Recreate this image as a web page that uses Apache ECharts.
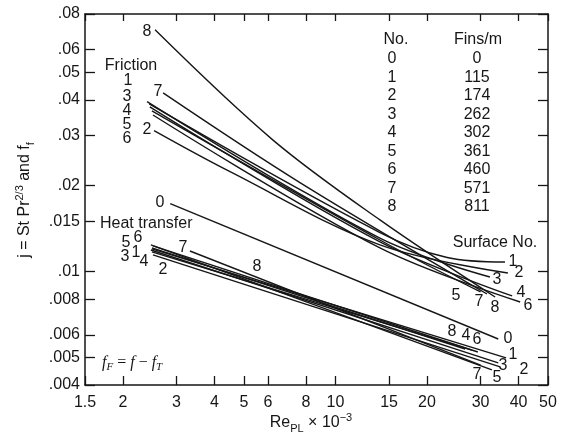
<!DOCTYPE html>
<html>
<head>
    <meta charset="utf-8" />
    <title>j and f vs Re</title>
    <script src="https://cdn.jsdelivr.net/npm/echarts@6/dist/echarts.min.js"></script>
    <style>
        body { margin: 0; background: #fff; }
        #main { width: 565px; height: 435px; }
    </style>
</head>
<body>
    <div id="main"></div>
    <script>
        // tick marks (Re x 10^-3 and j / f), log scales
        var xTicks = [1.5, 2, 3, 4, 5, 6, 8, 10, 15, 20, 30, 40, 50];
        var xTickLabels = ['1.5', '2', '3', '4', '5', '6', '8', '10', '15', '20', '30', '40', '50'];
        var yTicks = [0.004, 0.005, 0.006, 0.008, 0.01, 0.015, 0.02, 0.03, 0.04, 0.05, 0.06, 0.08];
        var yTickLabels = ['.004', '.005', '.006', '.008', '.01', '.015', '.02', '.03', '.04', '.05', '.06', '.08'];

        // friction curves, [Re x 10^-3, f]
        var friction1 = [[2.44, 0.0387], [14.0, 0.0137], [23.3, 0.0112], [36.1, 0.0108]];
        var friction2 = [[2.53, 0.0312], [4.5, 0.0224], [14.0, 0.0124], [36.9, 0.00988]];
        var friction3 = [[2.40, 0.0394], [14.0, 0.0131], [32.2, 0.00957]];
        var friction4 = [[2.45, 0.0378], [14.0, 0.0127], [38.1, 0.00821]];
        var friction5 = [[2.49, 0.0366], [14.0, 0.0129], [30.0, 0.00848]];
        var friction6 = [[2.51, 0.0354], [14.0, 0.0121], [40.5, 0.00782]];
        var friction7 = [[2.71, 0.0423], [7.64, 0.0205], [31.5, 0.00834]];
        var friction8 = [[2.55, 0.0704], [6.23, 0.0289], [14.0, 0.01517], [33.5, 0.00814]];

        // heat transfer curves, [Re x 10^-3, j]
        var heat0 = [[2.86, 0.0173], [34.3, 0.0058]];
        var heat1 = [[2.49, 0.0120], [36.4, 0.00498]];
        var heat2 = [[2.51, 0.01144], [34.8, 0.00463]];
        var heat3 = [[2.47, 0.0119], [34.3, 0.00478]];
        var heat4 = [[2.49, 0.01172], [28.1, 0.00530]];
        var heat5 = [[2.47, 0.0124], [32.7, 0.00452]];
        var heat6 = [[2.51, 0.0123], [29.4, 0.00522]];
        var heat7 = [[3.32, 0.0118], [30.0, 0.0047]];
        var heat8 = [[2.49, 0.0121], [26.7, 0.00535]];

        // surface table
        var surfaceNo = ['0', '1', '2', '3', '4', '5', '6', '7', '8'];
        var finsPerM = ['0', '115', '174', '262', '302', '361', '460', '571', '811'];

        var INK = '#161616';
        var FONT = '"Liberation Sans", Arial, sans-serif';
        var FS = 16;
        var lg = function (v) { return Math.log10(v); };
        var toLog = function (pts) { return pts.map(function (p) { return [lg(p[0]), lg(p[1])]; }); };
        var nearestLabel = function (ticks, labels, v) {
            var best = 0;
            for (var i = 1; i < ticks.length; i++) {
                if (Math.abs(lg(ticks[i]) - v) < Math.abs(lg(ticks[best]) - v)) best = i;
            }
            return labels[best];
        };

        var curves = [
            ['f1', friction1], ['f2', friction2], ['f3', friction3], ['f4', friction4],
            ['f5', friction5], ['f6', friction6], ['f7', friction7], ['f8', friction8],
            ['j0', heat0], ['j1', heat1], ['j2', heat2], ['j3', heat3], ['j4', heat4],
            ['j5', heat5], ['j6', heat6], ['j7', heat7], ['j8', heat8]
        ];
        var series = curves.map(function (c) {
            return {
                name: c[0],
                type: 'line',
                data: toLog(c[1]),
                showSymbol: false,
                smooth: c[1].length > 2 ? 0.35 : false,
                lineStyle: { color: INK, width: 1.4 },
                silent: true,
                animation: false
            };
        });

        // text annotations placed in pixels
        var notes = [
            ['8', 147, 32], ['Friction', 131, 66], ['1', 128, 81], ['3', 127, 97], ['7', 158, 92],
            ['4', 127, 111], ['5', 127, 125], ['2', 147, 130], ['6', 127, 139],
            ['0', 160, 203],
            ['5', 126, 243], ['6', 138, 238], ['3', 125, 257], ['1', 136, 253], ['4', 144, 262],
            ['2', 163, 270], ['7', 183, 248], ['8', 257, 267],
            ['Surface No.', 495, 243],
            ['1', 513, 262], ['2', 519, 273], ['3', 497, 280], ['4', 521, 293], ['6', 528, 306],
            ['5', 456, 296], ['7', 479, 302], ['8', 495, 308],
            ['8', 452, 332], ['4', 466, 336], ['6', 477, 340], ['0', 508, 339],
            ['1', 513, 355], ['3', 503, 366], ['2', 524, 370], ['7', 477, 375], ['5', 497, 378],
            ['No.', 396, 40], ['Fins/m', 478, 40]
        ];
        var graphics = notes.map(function (n) {
            return {
                type: 'text', x: n[1], y: n[2], silent: true,
                style: { text: n[0], fill: INK, font: FS + 'px ' + FONT, align: 'center', verticalAlign: 'middle' }
            };
        });
        // Heat transfer label is left-aligned
        graphics.push({
            type: 'text', x: 100, y: 224, silent: true,
            style: { text: 'Heat transfer', fill: INK, font: FS + 'px ' + FONT, align: 'left', verticalAlign: 'middle' }
        });
        surfaceNo.forEach(function (s, i) {
            graphics.push({
                type: 'text', x: 392, y: 59 + i * 18.5, silent: true,
                style: { text: s, fill: INK, font: FS + 'px ' + FONT, align: 'center', verticalAlign: 'middle' }
            });
            graphics.push({
                type: 'text', x: 477, y: 59 + i * 18.5, silent: true,
                style: { text: finsPerM[i], fill: INK, font: FS + 'px ' + FONT, align: 'center', verticalAlign: 'middle' }
            });
        });
        // formula
        graphics.push({
            type: 'text', x: 102, y: 363, silent: true,
            style: {
                text: '{i|f}{s|F}{n| = }{i|f}{n| − }{i|f}{s|T}',
                fill: INK, align: 'left', verticalAlign: 'middle',
                rich: {
                    i: { fontFamily: '"Liberation Serif", serif', fontStyle: 'italic', fontSize: 16, lineHeight: 20, verticalAlign: 'middle' },
                    n: { fontFamily: '"Liberation Serif", serif', fontSize: 16, lineHeight: 20, verticalAlign: 'middle' },
                    s: { fontFamily: '"Liberation Serif", serif', fontStyle: 'italic', fontSize: 11, lineHeight: 20, verticalAlign: 'bottom' }
                }
            }
        });
        // axis titles
        graphics.push({
            type: 'text', x: 311, y: 423, silent: true,
            style: {
                text: '{n|Re}{s|PL}{n| × 10}{p|−3}',
                fill: INK, align: 'center', verticalAlign: 'middle',
                rich: {
                    n: { fontFamily: FONT, fontSize: FS, lineHeight: 22, verticalAlign: 'middle' },
                    s: { fontFamily: FONT, fontSize: 11, lineHeight: 22, verticalAlign: 'bottom' },
                    p: { fontFamily: FONT, fontSize: 11, lineHeight: 22, verticalAlign: 'top' }
                }
            }
        });
        graphics.push({
            type: 'text', x: 25, y: 200, rotation: Math.PI / 2, silent: true,
            style: {
                text: '{n|j = St Pr}{p|2/3}{n| and f}{s|f}',
                fill: INK, align: 'center', verticalAlign: 'middle',
                rich: {
                    n: { fontFamily: FONT, fontSize: FS, lineHeight: 22, verticalAlign: 'middle' },
                    s: { fontFamily: FONT, fontSize: 11, lineHeight: 22, verticalAlign: 'bottom' },
                    p: { fontFamily: FONT, fontSize: 11, lineHeight: 22, verticalAlign: 'top' }
                }
            }
        });

        var xMin = lg(1.5), xMax = lg(50), yMin = lg(0.004), yMax = lg(0.08);
        var frameLine = { show: true, onZero: false, lineStyle: { color: INK, width: 1.5 } };
        var xTickLog = xTicks.map(lg);
        var yTickLog = yTicks.map(lg);

        var chart = echarts.init(document.getElementById('main'), null, { renderer: 'canvas' });
        chart.setOption({
            animation: false,
            backgroundColor: '#fff',
            grid: { left: 85, right: 17, top: 14, bottom: 50, containLabel: false, outerBoundsMode: 'none' },
            xAxis: [{
                type: 'value', position: 'bottom', min: xMin, max: xMax,
                axisLine: frameLine,
                axisTick: { show: true, inside: true, length: 9, customValues: xTickLog, lineStyle: { color: INK, width: 1.3 } },
                axisLabel: {
                    customValues: xTickLog, margin: 10, color: INK, fontSize: FS, fontFamily: FONT,
                    formatter: function (v) { return nearestLabel(xTicks, xTickLabels, v); }
                },
                splitLine: { show: false }
            }, {
                type: 'value', position: 'top', min: xMin, max: xMax,
                axisLine: frameLine,
                axisTick: { show: true, inside: true, length: 7, customValues: xTickLog, lineStyle: { color: INK, width: 1.3 } },
                axisLabel: { show: false },
                splitLine: { show: false }
            }],
            yAxis: [{
                type: 'value', position: 'left', min: yMin, max: yMax,
                axisLine: frameLine,
                axisTick: { show: true, inside: true, length: 10, customValues: yTickLog, lineStyle: { color: INK, width: 1.3 } },
                axisLabel: {
                    customValues: yTickLog, margin: 5, color: INK, fontSize: FS, fontFamily: FONT,
                    formatter: function (v) { return nearestLabel(yTicks, yTickLabels, v); }
                },
                splitLine: { show: false }
            }, {
                type: 'value', position: 'right', min: yMin, max: yMax,
                axisLine: frameLine,
                axisTick: { show: true, inside: true, length: 10, customValues: yTickLog, lineStyle: { color: INK, width: 1.3 } },
                axisLabel: { show: false },
                splitLine: { show: false }
            }],
            series: series,
            graphic: graphics
        });
    </script>
</body>
</html>
